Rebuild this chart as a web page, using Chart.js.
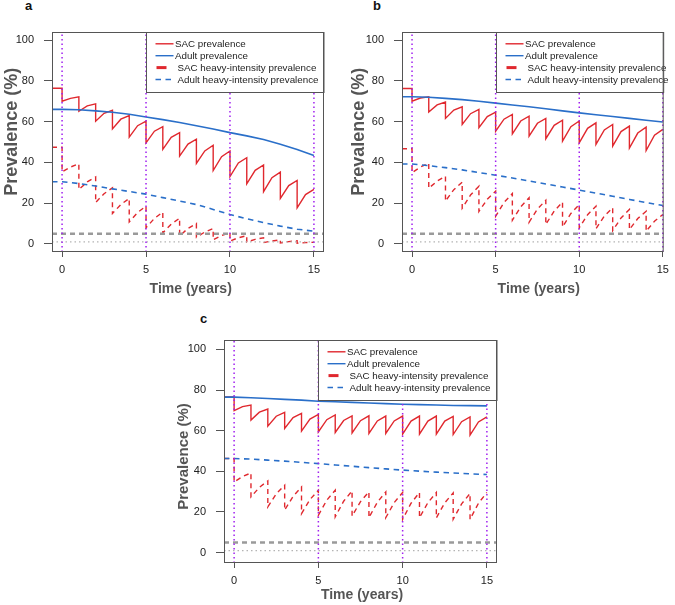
<!DOCTYPE html>
<html>
<head>
<meta charset="utf-8">
<script src="https://cdn.jsdelivr.net/npm/chart.js@4.4.1/dist/chart.umd.min.js"></script>
<style>
  body { margin: 0; background: #fff; width: 675px; height: 605px; position: relative; overflow: hidden; font-family: "Liberation Sans", Arial, sans-serif; }
  canvas { position: absolute; }
  .tag { position: absolute; font-weight: bold; font-size: 13px; line-height: 13px; color: #111; }
</style>
</head>
<body>
<div class="tag" style="left:25px;top:-1px">a</div>
<div class="tag" style="left:373px;top:-1px">b</div>
<div class="tag" style="left:200px;top:312px">c</div>
<canvas id="chartA" width="335" height="300" style="left:0;top:0"></canvas>
<canvas id="chartB" width="340" height="300" style="left:335px;top:0"></canvas>
<canvas id="chartC" width="345" height="305" style="left:160px;top:300px"></canvas>
<script>
const years = [0, 1, 2, 3, 4, 5, 6, 7, 8, 9, 10, 11, 12, 13, 14, 15];
const midYears = [0.5, 1.5, 2.5, 3.5, 4.5, 5.5, 6.5, 7.5, 8.5, 9.5, 10.5, 11.5, 12.5, 13.5, 14.5];
const preStart = -0.6;
const treatYears = [0, 5, 10, 15];
const thresholdDashed = 5;
const thresholdDotted = 1;
const xTicks = [0, 5, 10, 15];
const yTicks = [0, 20, 40, 60, 80, 100];
const labels = ['SAC prevalence', 'Adult prevalence', 'SAC heavy-intensity prevalence', 'Adult heavy-intensity prevalence'];

// panel a
const sacPeakA = [76.4, 72.2, 68.7, 65.6, 63.0, 60.2, 57.5, 54.6, 51.4, 48.4, 45.6, 42.3, 38.7, 35.2, 31.1, 26.7];
const sacTroughA = [70.0, 65.1, 60.2, 56.4, 52.4, 49.6, 46.4, 43.1, 39.5, 36.0, 33.0, 29.5, 25.6, 22.3, 17.7];
const sacMidA = [71.4, 67.7, 64.1, 61.2, 58.0, 55.3, 52.3, 49.0, 45.6, 42.8, 39.7, 36.1, 32.5, 28.6, 24.2];
const adultA = [66.0, 65.8, 65.3, 64.6, 63.6, 62.3, 61.0, 59.6, 58.0, 56.4, 54.6, 53.0, 51.2, 48.9, 46.3, 43.4];
const sacHeavyPeakA = [47.4, 39.3, 32.8, 27.5, 22.3, 18.5, 15.6, 12.6, 10.0, 7.5, 5.5, 4.0, 3.0, 2.0, 1.5, 0.8];
const sacHeavyTroughA = [35.4, 26.7, 20.3, 14.9, 10.8, 7.9, 5.4, 3.9, 3.2, 2.0, 1.4, 0.9, 0.6, 0.4, 0.3];
const sacHeavyMidA = [37.7, 30.4, 24.6, 19.3, 15.4, 12.5, 9.7, 7.6, 5.8, 4.1, 3.0, 2.2, 1.4, 1.1, 0.6];
const adultHeavyA = [30.5, 29.6, 28.4, 27.0, 25.7, 24.4, 22.7, 21.0, 19.3, 16.9, 14.4, 12.3, 10.4, 8.7, 7.2, 6.2];

// panel b
const sacPeakB = [76.3, 72.2, 69.6, 67.3, 66.0, 64.7, 63.5, 62.7, 61.6, 60.7, 60.3, 59.4, 58.6, 57.8, 57.3, 56.2];
const sacTroughB = [70.0, 64.7, 61.6, 58.6, 57.0, 55.3, 54.0, 52.9, 51.6, 50.4, 49.6, 48.8, 48.0, 47.0, 45.8];
const sacMidB = [71.6, 68.2, 65.7, 63.9, 62.5, 61.2, 60.3, 59.2, 58.2, 57.5, 56.7, 55.9, 55.1, 54.4, 53.3];
const adultB = [72.2, 72.0, 71.4, 70.8, 70.0, 69.1, 68.2, 67.3, 66.3, 65.3, 64.3, 63.4, 62.5, 61.6, 60.7, 59.8];
const sacHeavyPeakB = [46.7, 39.5, 33.2, 30.3, 28.3, 25.9, 24.7, 22.6, 21.4, 20.5, 19.3, 18.5, 17.7, 16.9, 16.0, 14.4];
const sacHeavyTroughB = [34.9, 27.3, 21.0, 17.5, 15.9, 13.6, 11.6, 10.6, 9.5, 8.3, 7.9, 7.4, 6.5, 7.0, 6.2];
const sacHeavyMidB = [37.7, 30.8, 26.6, 24.0, 21.9, 20.3, 18.2, 17.1, 16.1, 14.9, 14.3, 13.6, 12.7, 12.4, 11.1];
const adultHeavyB = [39.2, 38.4, 37.4, 36.3, 35.0, 33.7, 32.3, 30.9, 29.4, 27.9, 26.4, 24.9, 23.4, 21.8, 20.3, 18.8];

// panel c
const sacPeakC = [76.6, 72.6, 70.6, 69.0, 68.5, 68.0, 67.7, 67.3, 67.3, 67.2, 67.2, 67.2, 67.2, 67.0, 66.8, 66.8];
const sacTroughC = [69.8, 65.2, 62.2, 61.1, 59.8, 59.4, 59.1, 58.9, 58.6, 58.6, 58.3, 58.3, 58.3, 58.1, 57.8];
const sacMidC = [71.8, 69.1, 67.1, 66.4, 65.7, 65.4, 65.0, 64.9, 64.8, 64.8, 64.7, 64.7, 64.7, 64.4, 64.3];
const adultC = [76.5, 76.2, 75.8, 75.4, 75.0, 74.5, 74.2, 73.9, 73.6, 73.3, 73.0, 72.8, 72.6, 72.4, 72.3, 72.2];
const sacHeavyPeakC = [46.3, 39.2, 35.3, 33.2, 32.3, 30.7, 30.7, 30.4, 29.9, 29.9, 29.6, 29.6, 29.6, 29.4, 29.1, 29.6];
const sacHeavyTroughC = [34.8, 27.4, 22.5, 20.9, 19.2, 18.4, 17.6, 18.0, 17.2, 17.2, 16.4, 17.2, 17.1, 16.4, 16.4];
const sacHeavyMidC = [37.4, 32.1, 28.9, 27.7, 26.1, 25.8, 25.3, 25.1, 24.8, 24.6, 24.3, 24.6, 24.5, 24.0, 24.3];
const adultHeavyC = [46.3, 46.0, 45.5, 45.0, 44.4, 43.8, 43.1, 42.5, 41.8, 41.2, 40.6, 40.1, 39.6, 39.2, 38.8, 38.4];

const FONT = "'Liberation Sans', Arial, sans-serif";
const RED = '#e0282e';
const BLUE = '#2a6fc9';
const PURPLE = '#a020f0';

function sawtooth(peaks, troughs, mids) {
  const pts = [{x: preStart, y: peaks[0]}];
  troughs.forEach((tr, k) => {
    pts.push({x: years[k], y: peaks[k]});
    pts.push({x: years[k], y: tr});
    pts.push({x: midYears[k], y: mids[k]});
  });
  pts.push({x: years[years.length - 1], y: peaks[peaks.length - 1]});
  return pts;
}

function smooth(vals) {
  return [{x: preStart, y: vals[0]}].concat(years.map((t, i) => ({x: t, y: vals[i]})));
}

function verticals(xs, lo, hi) {
  const pts = [];
  xs.forEach((v) => { pts.push({x: v, y: lo}, {x: v, y: hi}, {x: v, y: null}); });
  return pts;
}

// frame, legend and y title drawn on top of the plot
const panelDecor = {
  id: 'panelDecor',
  afterDraw(chart, args, o) {
    const {ctx, chartArea: a, scales: {x}} = chart;
    ctx.save();
    const lx = Math.round(x.getPixelForValue(o.legendAt)) + 0.5;
    const lw = a.right - lx;
    const lh = 60;
    ctx.fillStyle = '#fff';
    ctx.fillRect(lx, a.top, lw, lh);
    ctx.strokeStyle = '#555';
    ctx.lineWidth = 1;
    ctx.strokeRect(lx, a.top + 0.5, lw, lh);
    ctx.font = '9.8px ' + FONT;
    ctx.textBaseline = 'middle';
    ctx.fillStyle = '#222';
    chart.data.datasets.filter(d => d.key).forEach((d, i) => {
      const ry = a.top + 11.8 + i * 11.9;
      ctx.beginPath();
      ctx.strokeStyle = d.borderColor;
      if (d.key === 'heavy') {
        ctx.lineWidth = 3;
        ctx.setLineDash([]);
        ctx.moveTo(lx + 10, ry); ctx.lineTo(lx + 20, ry);
      } else {
        ctx.lineWidth = 1.4;
        ctx.setLineDash(d.borderDash || []);
        ctx.moveTo(lx + 9, ry); ctx.lineTo(lx + 27, ry);
      }
      ctx.stroke();
      ctx.setLineDash([]);
      ctx.fillText(d.label, lx + (d.key === 'solid' ? 28.5 : 31), ry + 0.5);
    });
    ctx.strokeStyle = '#555';
    ctx.lineWidth = 1;
    ctx.strokeRect(a.left + 0.5, a.top + 0.5, a.width - 1, a.height - 1);

    ctx.fillStyle = '#555';
    ctx.font = 'bold ' + o.ySize + 'px ' + FONT;
    ctx.textAlign = 'center';
    ctx.textBaseline = 'alphabetic';
    ctx.translate(o.yTitleX, o.yTitleY);
    ctx.rotate(-Math.PI / 2);
    ctx.fillText('Prevalence (%)', 0, 0);
    ctx.rotate(Math.PI / 2);
    ctx.translate(-o.yTitleX, -o.yTitleY);
    ctx.font = 'bold 14px ' + FONT;
    ctx.fillText('Time (years)', o.xTitleX, o.xTitleY);
    ctx.restore();
  }
};

function createPanel(canvasId, s, lay) {
  const ctx = document.getElementById(canvasId).getContext('2d');
  const datasets = [
    {label: labels[0], key: 'solid', data: sawtooth(s.sacPeak, s.sacTrough, s.sacMid), borderColor: RED, borderWidth: 1.4, order: 6},
    {label: labels[1], key: 'solid', data: smooth(s.adult), borderColor: BLUE, borderWidth: 1.6, order: 5},
    {label: labels[2], key: 'heavy', data: sawtooth(s.heavyPeak, s.heavyTrough, s.heavyMid), borderColor: RED, borderWidth: 1.4, borderDash: [5, 4], order: 4},
    {label: labels[3], key: 'dashed', data: smooth(s.adultHeavy), borderColor: BLUE, borderWidth: 1.6, borderDash: [5.5, 4.5], order: 3},
    {data: [{x: lay.xMin, y: thresholdDashed}, {x: lay.xMax, y: thresholdDashed}], borderColor: '#9a9a9a', borderWidth: 2.5, borderDash: [5, 4], order: 2},
    {data: [{x: lay.xMin, y: thresholdDotted}, {x: lay.xMax, y: thresholdDotted}], borderColor: '#b4b4b4', borderWidth: 1.3, borderDash: [1.5, 3], order: 1},
    {data: verticals(treatYears, lay.yMin, lay.yMax), borderColor: PURPLE, borderWidth: 1.5, borderDash: [1.5, 3], spanGaps: false, order: 0}
  ];
  datasets.forEach(d => { d.pointRadius = 0; d.fill = false; d.tension = 0; });

  return new Chart(ctx, {
    type: 'line',
    data: {datasets: datasets},
    options: {
      responsive: false,
      animation: false,
      devicePixelRatio: 1,
      layout: {padding: {left: 0, top: lay.top, right: lay.right, bottom: 0}},
      plugins: {
        legend: {display: false},
        tooltip: {enabled: false},
        panelDecor: lay.decor
      },
      scales: {
        x: {
          type: 'linear', min: lay.xMin, max: lay.xMax,
          afterBuildTicks: (sc) => { sc.ticks = xTicks.map(v => ({value: v})); },
          afterFit: (sc) => { sc.height = lay.xHeight; },
          grid: {drawOnChartArea: false, drawTicks: true, tickLength: 5, color: '#555'},
          border: {display: false},
          ticks: {font: {size: 11, family: FONT}, color: '#222', padding: 6, maxRotation: 0, autoSkip: false}
        },
        y: {
          type: 'linear', min: lay.yMin, max: lay.yMax,
          afterBuildTicks: (sc) => { sc.ticks = yTicks.map(v => ({value: v})); },
          afterFit: (sc) => { sc.width = lay.yWidth; },
          grid: {drawOnChartArea: false, drawTicks: true, tickLength: 8, color: '#555'},
          border: {display: false},
          ticks: {font: {size: 11, family: FONT}, color: '#222', padding: 10, autoSkip: false}
        }
      }
    },
    plugins: [panelDecor]
  });
}

const chartA = createPanel('chartA',
  {sacPeak: sacPeakA, sacTrough: sacTroughA, sacMid: sacMidA, adult: adultA,
   heavyPeak: sacHeavyPeakA, heavyTrough: sacHeavyTroughA, heavyMid: sacHeavyMidA, adultHeavy: adultHeavyA},
  {xMin: -0.6, xMax: 15.6, yMin: -4, yMax: 104, top: 32, right: 11, yWidth: 52, xHeight: 48,
   decor: {legendAt: 5, ySize: 18, yTitleX: 17.3, yTitleY: 131.7, xTitleX: 190.7, xTitleY: 293.3}});

const chartB = createPanel('chartB',
  {sacPeak: sacPeakB, sacTrough: sacTroughB, sacMid: sacMidB, adult: adultB,
   heavyPeak: sacHeavyPeakB, heavyTrough: sacHeavyTroughB, heavyMid: sacHeavyMidB, adultHeavy: adultHeavyB},
  {xMin: -0.6, xMax: 15.05, yMin: -4, yMax: 104, top: 32, right: 11, yWidth: 67, xHeight: 48,
   decor: {legendAt: 5, ySize: 18, yTitleX: 28.5, yTitleY: 131.7, xTitleX: 203.7, xTitleY: 293.3}});

const chartC = createPanel('chartC',
  {sacPeak: sacPeakC, sacTrough: sacTroughC, sacMid: sacMidC, adult: adultC,
   heavyPeak: sacHeavyPeakC, heavyTrough: sacHeavyTroughC, heavyMid: sacHeavyMidC, adultHeavy: adultHeavyC},
  {xMin: -0.6, xMax: 15.6, yMin: -5.1, yMax: 104.6, top: 40, right: 8, yWidth: 64, xHeight: 42,
   decor: {legendAt: 5, ySize: 15, yTitleX: 28, yTitleY: 156.5, xTitleX: 202, xTitleY: 299.3}});
</script>
</body>
</html>
